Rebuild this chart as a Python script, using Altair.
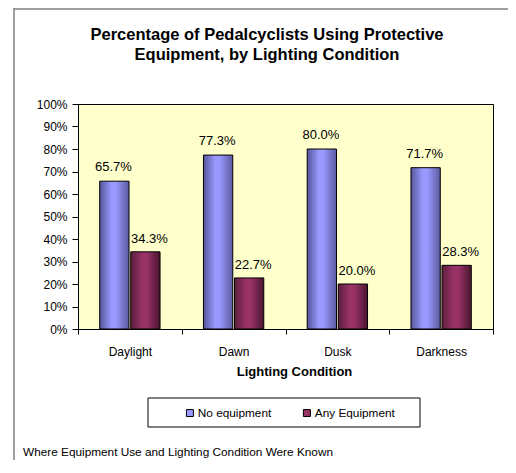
import altair as alt
import pandas as pd

conditions = ["Daylight", "Dawn", "Dusk", "Darkness"]
series = ["No equipment", "Any Equipment"]
no_equipment = [0.657, 0.773, 0.800, 0.717]
any_equipment = [0.343, 0.227, 0.200, 0.283]
y_ticks = [0, 0.1, 0.2, 0.3, 0.4, 0.5, 0.6, 0.7, 0.8, 0.9, 1.0]
colors = ["#9999FF", "#993366"]
title_text = "Percentage of Pedalcyclists  Using Protective\nEquipment, by Lighting  Condition"
footnote = "Where Equipment Use and Lighting Condition Were Known"

rows = []
for i, c in enumerate(conditions):
    rows.append({"cond": c, "series": series[0], "value": no_equipment[i]})
    rows.append({"cond": c, "series": series[1], "value": any_equipment[i]})
df = pd.DataFrame(rows)

FONT = "Liberation Sans"

x_enc = alt.X("cond:N", sort=conditions, title="Lighting  Condition",
              scale=alt.Scale(paddingInner=0, paddingOuter=0),
              axis=alt.Axis(labelAngle=0, tickBand="extent", tickSize=5, tickColor="black",
                            domainColor="black", labelPadding=12, labelFontSize=12,
                            labelFont=FONT, labelColor="black", titleFont=FONT,
                            titleFontSize=13, titleFontWeight="bold", titleColor="black",
                            titlePadding=8, titleX=216))
xo_enc = alt.XOffset("series:N", sort=series,
                     scale=alt.Scale(paddingInner=0.055, paddingOuter=0.7))
y_enc = alt.Y("value:Q", scale=alt.Scale(domain=[0, 1]),
              axis=alt.Axis(values=y_ticks, format=".0%", title=None, grid=False,
                            tickSize=6, tickColor="black", domainColor="black",
                            labelPadding=5, labelFontSize=12, labelFont=FONT,
                            labelColor="black"))

base = alt.Chart(df)

legend_layer = base.mark_bar(opacity=0).encode(
    x=x_enc, xOffset=xo_enc, y=y_enc,
    color=alt.Color("series:N", sort=series,
                    scale=alt.Scale(domain=series, range=colors),
                    legend=alt.Legend(orient="none", legendX=106, legendY=303,
                                      direction="horizontal", title=None,
                                      symbolType="square", symbolSize=49,
                                      symbolStrokeColor="black", symbolStrokeWidth=1,
                                      symbolOpacity=1,
                                      labelFont=FONT, labelFontSize=11.8, labelColor="black",
                                      labelOffset=2, columnPadding=29))
)

def grad(dark1, light, dark2):
    return alt.Gradient(gradient="linear", x1=0, x2=1, y1=0, y2=0,
                        stops=[alt.GradientStop(color=dark1, offset=0),
                               alt.GradientStop(color=light, offset=0.4),
                               alt.GradientStop(color=light, offset=0.55),
                               alt.GradientStop(color=dark2, offset=1)])

blue_df = base.transform_filter(alt.datum.series == series[0])
red_df = base.transform_filter(alt.datum.series == series[1])

bars_blue = blue_df.mark_bar(
    fill=grad("#55559a", "#9999FF", "#5a5aa0"), stroke="black", strokeWidth=1
).encode(x=x_enc, xOffset=xo_enc, y=y_enc)

bars_red = red_df.mark_bar(
    fill=grad("#5c1f3d", "#993366", "#4a1530"), stroke="black", strokeWidth=1
).encode(x=x_enc, xOffset=xo_enc, y=y_enc)

labels_blue = blue_df.mark_text(dy=-10, dx=-1, baseline="alphabetic", fontSize=13,
                                font=FONT, color="black").encode(
    x=x_enc, xOffset=xo_enc, y=y_enc, text=alt.Text("value:Q", format=".1%"))
labels_red = red_df.mark_text(dy=-9, dx=4, baseline="alphabetic", fontSize=13,
                              font=FONT, color="black").encode(
    x=x_enc, xOffset=xo_enc, y=y_enc, text=alt.Text("value:Q", format=".1%"))

one = alt.Data(values=[{"a": 1}])
frame_v = alt.Chart(one).mark_rule(color="#808080", strokeWidth=1.5).encode(
    x=alt.value(-64), y=alt.value(-96), y2=alt.value(380))
frame_h = alt.Chart(one).mark_rule(color="#808080", strokeWidth=1.5).encode(
    x=alt.value(-64), x2=alt.value(440), y=alt.value(-95))
legend_box = alt.Chart(one).mark_rect(fill="white", stroke="black", strokeWidth=1).encode(
    x=alt.value(70), x2=alt.value(342), y=alt.value(294), y2=alt.value(323))
foot = alt.Chart(alt.Data(values=[{"t": footnote}])).mark_text(
    align="left", baseline="alphabetic", fontSize=11.8, font=FONT, color="black"
).encode(x=alt.value(-55), y=alt.value(352), text="t:N")
title = alt.Chart(alt.Data(values=[{"t": title_text}])).mark_text(
    align="center", baseline="top", fontSize=16.5, fontWeight="bold", font=FONT,
    color="black", lineBreak="\n", lineHeight=20
).encode(x=alt.value(189), y=alt.value(-77), text="t:N")

chart = alt.layer(frame_v, frame_h, legend_box, legend_layer, bars_blue, bars_red,
                  labels_blue, labels_red, foot, title).properties(
    width=415, height=225,
    autosize=alt.AutoSizeParams(type="none"),
    padding={"left": 70, "top": 96, "right": 15, "bottom": 131},
).configure_view(fill="#FFFFCC", stroke="black", strokeWidth=1)

chart.save("out.html", embed_options={"renderer": "svg", "actions": False})
